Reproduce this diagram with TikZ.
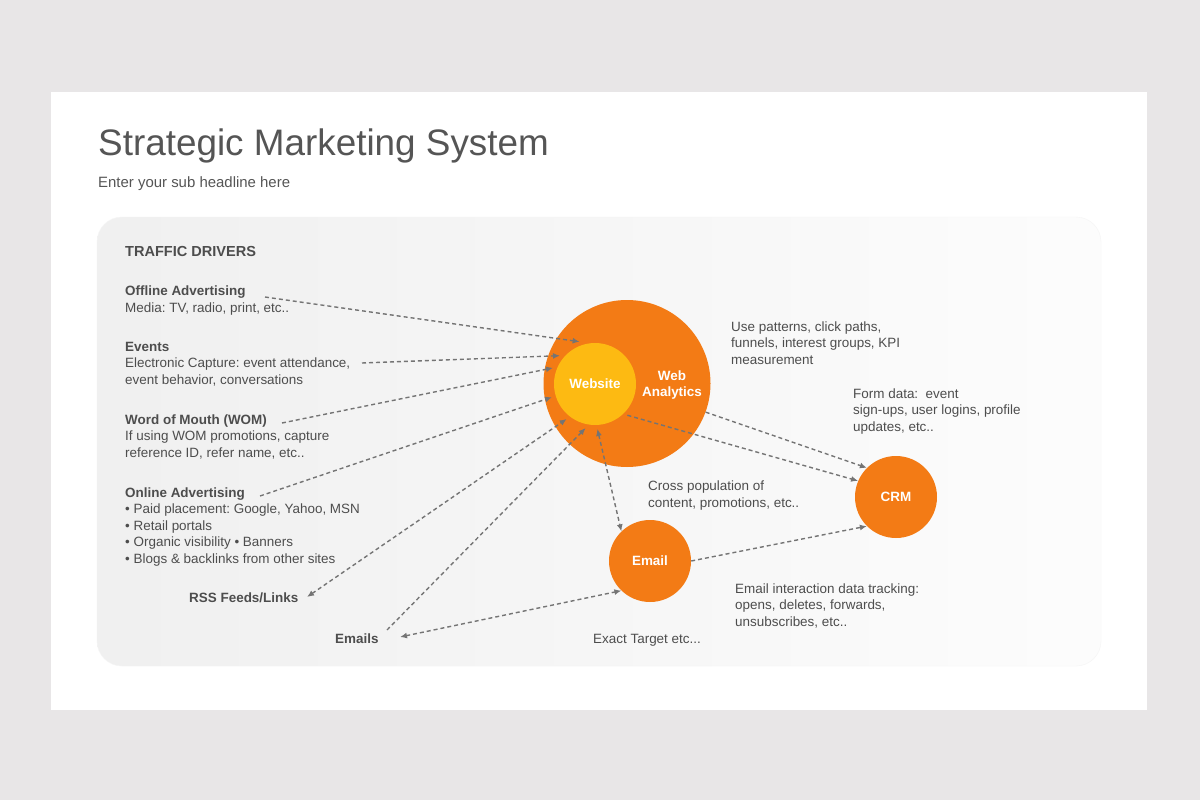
\documentclass[tikz,border=0pt]{standalone}
\usepackage{fontspec}
\setmainfont{Liberation Sans}
\usetikzlibrary{arrows.meta}
\frenchspacing
\definecolor{pagebg}{HTML}{E8E6E7}
\definecolor{ink}{HTML}{555555}
\definecolor{body}{HTML}{4D4D4D}
\definecolor{dash}{HTML}{747474}
\definecolor{orng}{HTML}{F37B15}
\definecolor{ylw}{HTML}{FDBA12}
\tikzset{
  txt/.style={anchor=base west,inner sep=0pt,text=body,align=left,
    font=\fontsize{13.5}{16.5}\selectfont},
  hd/.style={txt,font=\fontsize{13.5}{16.5}\selectfont\bfseries},
  ball/.style={circle,fill=orng,text=white,align=center,inner sep=0pt,
    minimum size=82bp,font=\fontsize{13.5}{16}\selectfont\bfseries},
  link/.style={draw=dash,line width=1.4bp,dash pattern=on 4bp off 3bp,
    -{Latex[length=7bp,width=6bp]}},
  both/.style={link,{Latex[length=7bp,width=6bp]}-{Latex[length=7bp,width=6bp]}},
}
\begin{document}
\begin{tikzpicture}
\useasboundingbox (0,0) rectangle (1200bp,-800bp);
\fill[pagebg] (0,0) rectangle (1200bp,-800bp);
\fill[white] (51bp,-92bp) rectangle (1147bp,-710bp);
\shade[left color=black!6,right color=black!1,rounded corners=25bp] (97bp,-217bp) rectangle (1101bp,-666bp);
\draw[black!4,rounded corners=25bp] (97bp,-217bp) rectangle (1101bp,-666bp);
\node (Title) at (98bp,-155bp)[anchor=base west,inner sep=0pt,text=ink,font=\fontsize{37}{44}\selectfont] {Strategic Marketing System};
\node (Sub) at (98bp,-187bp)[anchor=base west,inner sep=0pt,text=ink,font=\fontsize{15}{18}\selectfont] {Enter your sub headline here};
\node (Traffic) at (125bp,-256bp)[hd,font=\fontsize{14.6}{18}\selectfont\bfseries] {TRAFFIC DRIVERS};
\node (Off) at (125bp,-312bp)[txt] {\textbf{Offline Advertising}\\Media: TV, radio, print, etc..};
\node (Evt) at (125bp,-384bp)[txt] {\textbf{Events}\\Electronic Capture: event attendance,\\event behavior, conversations};
\node (Wom) at (125bp,-457bp)[txt] {\textbf{Word of Mouth (WOM)}\\If using WOM promotions, capture\\reference ID, refer name, etc..};
\node (Onl) at (125bp,-563bp)[txt] {\textbf{Online Advertising}\\• Paid placement: Google, Yahoo, MSN\\• Retail portals\\• Organic visibility • Banners\\• Blogs \& backlinks from other sites};
\node (Rss) at (189bp,-602bp)[hd] {RSS Feeds/Links};
\node (Mails) at (335bp,-643bp)[hd] {Emails};
\node (Web) at (627bp,-383.5bp)[ball,minimum size=167bp] {};
\node (Site) at (595bp,-384bp)[ball,fill=ylw,outer sep=4bp] {Website};
\node (WebTxt) at (672bp,-385bp)[text=white,align=center,font=\fontsize{13.5}{16}\selectfont\bfseries] {Web\\Analytics};
\node (CRM) at (896bp,-497bp)[ball] {CRM};
\node (Mail) at (650bp,-561bp)[ball] {Email};
\node (Use) at (731bp,-364bp)[txt] {Use patterns, click paths,\\funnels, interest groups, KPI\\measurement};
\node (Form) at (853bp,-431bp)[txt] {Form data:\ \ event\\sign-ups, user logins, profile\\updates, etc..};
\node (Cross) at (648bp,-507bp)[txt] {Cross population of\\content, promotions, etc..};
\node (Track) at (735bp,-626bp)[txt] {Email interaction data tracking:\\opens, deletes, forwards,\\unsubscribes, etc..};
\node (Exact) at (593bp,-643bp)[txt] {Exact Target etc...};
\coordinate (offE) at (265bp,-297bp);
\coordinate (evtE) at (362bp,-363bp);
\coordinate (womE) at (282bp,-423bp);
\coordinate (onlE) at (260bp,-496bp);
\coordinate (rssE) at (307bp,-597bp);
\coordinate (mailsN) at (387bp,-630bp);
\coordinate (mailsE) at (400bp,-637bp);
\draw[link] (offE) to (Site.110);
\draw[link] (evtE) to (Site.141);
\draw[link] (womE) to (Site.159);
\draw[link] (onlE) to (Site.197);
\draw[both] (rssE) to (Site.231);
\draw[link] (mailsN) to (Site.258);
\draw[both] (Site.273) to (Mail.134);
\draw[both] (mailsE) to (Mail.226);
\draw[link] (Web.-20) to (CRM.135);
\draw[link] (Site.-44) to (CRM.157);
\draw[link] (Mail.east) to (CRM.225);
\end{tikzpicture}
\end{document}
